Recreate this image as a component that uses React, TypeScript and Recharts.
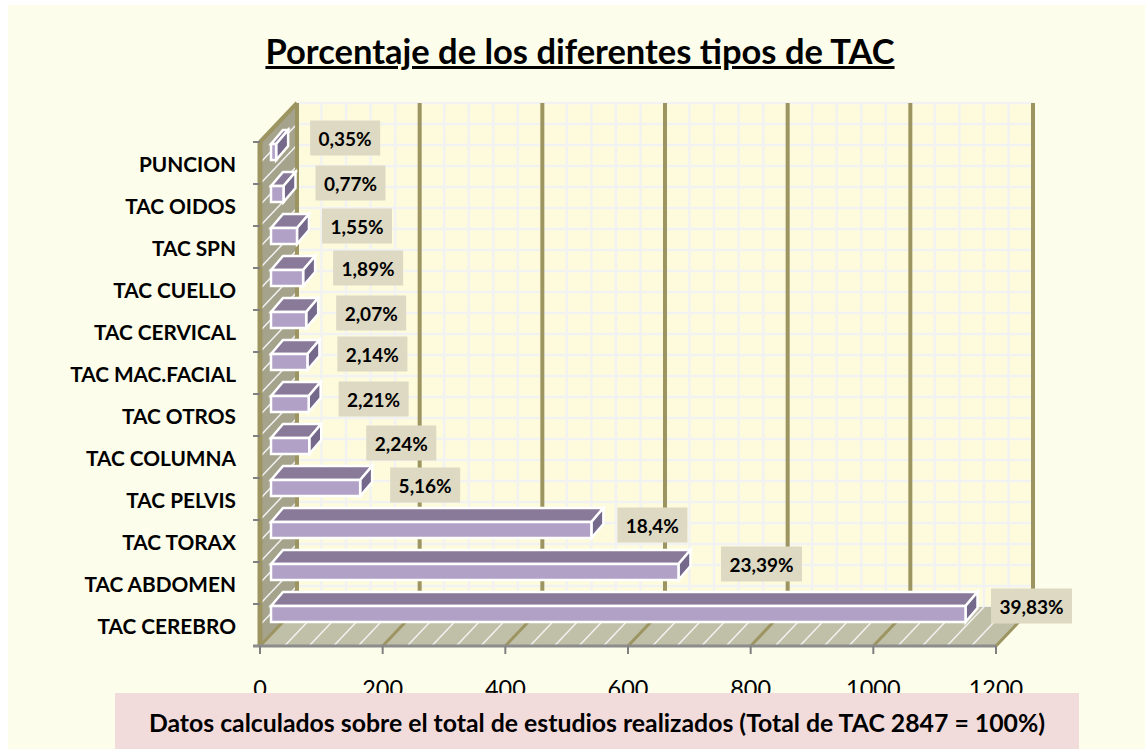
import React from 'react';
import { BarChart, Bar, XAxis, YAxis, ReferenceArea, LabelList } from 'recharts';

const categories = [
  'PUNCION', 'TAC OIDOS', 'TAC SPN', 'TAC CUELLO', 'TAC CERVICAL', 'TAC MAC.FACIAL',
  'TAC OTROS', 'TAC COLUMNA', 'TAC PELVIS', 'TAC TORAX', 'TAC ABDOMEN', 'TAC CEREBRO',
];
const counts = [10, 22, 44, 54, 59, 61, 63, 64, 147, 524, 666, 1134];
const percents = [
  '0,35%', '0,77%', '1,55%', '1,89%', '2,07%', '2,14%',
  '2,21%', '2,24%', '5,16%', '18,4%', '23,39%', '39,83%',
];
const xTicks = [0, 200, 400, 600, 800, 1000, 1200];

const data = categories.map((name, i) => ({ name, count: counts[i], percent: percents[i] }));

// hand placed data labels in the original, offset from the end of each bar
const labelNudge = [
  [79, -25], [77, -22], [70, -21], [75, -21], [75, -18], [75, -19],
  [75, -16], [102, -14], [75, -14], [71, -16], [93, -19], [76, -19],
];

const FONT = 'Lato, sans-serif';
const WALL_DX = 37;
const WALL_DY = -39;
const BAR_DX = 12;
const BAR_DY = -14;

function Walls({ x, y, width, height }: any) {
  const bx = x + WALL_DX;
  const by = y + WALL_DY;
  const bottom = y + height;
  const minorX = Array.from({ length: 31 }, (_, i) => (i * width) / 30);
  const minorY = Array.from({ length: 25 }, (_, i) => (i * height) / 24);
  const majorX = xTicks.map((_, i) => (i * width) / (xTicks.length - 1));
  const bands = categories.map((_, i) => (i * height) / categories.length);
  return (
    <g>
      <rect x={bx} y={by} width={width} height={height} fill="#fdfbdc" />
      {minorX.map((d) => (
        <line key={d} x1={bx + d} x2={bx + d} y1={by} y2={by + height} stroke="#f2f2f2" strokeWidth={2.5} />
      ))}
      {minorY.map((d) => (
        <line key={d} x1={bx} x2={bx + width} y1={by + d} y2={by + d} stroke="#f2f2f2" strokeWidth={2.5} />
      ))}
      {/* left wall */}
      <polygon points={`${x},${y} ${bx},${by} ${bx},${by + height} ${x},${bottom}`} fill="#a5a38c" />
      {minorY.map((d) => (
        <line key={d} x1={x} x2={bx} y1={y + d} y2={by + d} stroke="#f2f2f2" strokeWidth={1.5} />
      ))}
      {/* floor */}
      <polygon
        points={`${x},${bottom} ${bx},${by + height} ${bx + width},${by + height} ${x + width},${bottom}`}
        fill="#c0c0a8"
      />
      {minorX.map((d) => (
        <line key={d} x1={x + d} x2={bx + d} y1={bottom} y2={by + height} stroke="#f2f2f2" strokeWidth={1.5} />
      ))}
      {majorX.map((d) => (
        <g key={d}>
          <line x1={bx + d} x2={bx + d} y1={by} y2={by + height} stroke="#9c9461" strokeWidth={4} />
          <line x1={x + d} x2={bx + d} y1={bottom} y2={by + height} stroke="#9c9461" strokeWidth={3} />
        </g>
      ))}
      <line x1={x} x2={bx} y1={y} y2={by} stroke="#9c9461" strokeWidth={4} />
      <line x1={x} x2={x} y1={y} y2={bottom} stroke="#9c9461" strokeWidth={5} />
      <line x1={bx} x2={bx} y1={by} y2={by + height} stroke="#9c9461" strokeWidth={4} />
      {/* band ticks and base line */}
      {bands.map((d) => (
        <line key={d} x1={x - 7} x2={x} y1={y + d} y2={y + d} stroke="#808080" strokeWidth={2} />
      ))}
      <line x1={x - 7} x2={x + width} y1={bottom} y2={bottom} stroke="#8c8c8c" strokeWidth={3} />
      {majorX.map((d) => (
        <line key={d} x1={x + d} x2={x + d} y1={bottom} y2={bottom + 8} stroke="#808080" strokeWidth={2} />
      ))}
    </g>
  );
}

function Bar3D({ x, y, width, height }: any) {
  const fx = x + 11;
  const fy = y - 11;
  const right = fx + width - 1;
  const top = `${fx},${fy} ${fx + BAR_DX},${fy + BAR_DY} ${right + BAR_DX},${fy + BAR_DY} ${right},${fy}`;
  const side = `${right},${fy} ${right + BAR_DX},${fy + BAR_DY} ${right + BAR_DX},${fy + height + BAR_DY} ${right},${fy + height}`;
  return (
    <g stroke="#ffffff" strokeWidth={2.5}>
      <polygon points={top} fill="#8a7a9a" />
      <polygon points={side} fill="#75698b" />
      <rect x={fx} y={fy} width={width - 1} height={height} fill="#b2a1c7" />
    </g>
  );
}

function PercentLabel({ x, y, width, height, value, index }: any) {
  const [dx, dy] = labelNudge[index];
  const cx = x + width + dx;
  const cy = y + height / 2 + dy;
  const boxW = String(value).length > 5 ? 81 : 70;
  return (
    <g>
      <rect x={cx - boxW / 2} y={cy - 17.5} width={boxW} height={35} fill="#ddd9c3" />
      <text x={cx} y={cy} textAnchor="middle" dominantBaseline="central" fontFamily={FONT} fontWeight={700} fontSize={19} fill="#000">
        {value}
      </text>
    </g>
  );
}

export default function App() {
  return (
    <div style={{ position: 'absolute', left: 0, top: 0, width: 1145, height: 749, background: '#ffffff', overflow: 'hidden' }}>
      <div style={{ position: 'absolute', left: 8, top: 5, width: 1137, height: 744, background: '#fcfdeb' }} />
      <div
        style={{
          position: 'absolute', left: 0, top: 29, width: 1160, textAlign: 'center', fontFamily: FONT,
          fontWeight: 700, fontSize: 34.5, lineHeight: '44px', textDecoration: 'underline', color: '#000',
        }}
      >
        Porcentaje de los diferentes tipos de TAC
      </div>
      <div style={{ position: 'absolute', left: 0, top: 0 }}>
        <BarChart
          width={1145}
          height={749}
          layout="vertical"
          data={data}
          barSize={16}
          margin={{ top: 142, right: 149, bottom: 73, left: 20 }}
        >
          <XAxis
            type="number"
            domain={[0, 1200]}
            ticks={xTicks}
            axisLine={false}
            tickLine={false}
            tickMargin={28}
            tick={{ fill: '#000', fontFamily: FONT, fontSize: 23.5 }}
          />
          <YAxis
            type="category"
            dataKey="name"
            width={240}
            interval={0}
            axisLine={false}
            tickLine={false}
            tickMargin={18}
            tick={{ fill: '#000', fontFamily: FONT, fontWeight: 700, fontSize: 20.8, dy: 1.5 }}
          />
          <ReferenceArea x1={0} x2={1200} ifOverflow="visible" shape={<Walls />} />
          <Bar dataKey="count" isAnimationActive={false} shape={<Bar3D />}>
            <LabelList dataKey="percent" content={<PercentLabel />} />
          </Bar>
        </BarChart>
      </div>
      <div
        style={{
          position: 'absolute', left: 115, top: 693, width: 964, height: 56, lineHeight: '60px', background: '#f2dcdb',
          textAlign: 'center', fontFamily: FONT, fontWeight: 700, fontSize: 24.8, whiteSpace: 'nowrap', color: '#000',
        }}
      >
        Datos calculados sobre el total de estudios realizados (Total de TAC 2847 = 100%)
      </div>
    </div>
  );
}
